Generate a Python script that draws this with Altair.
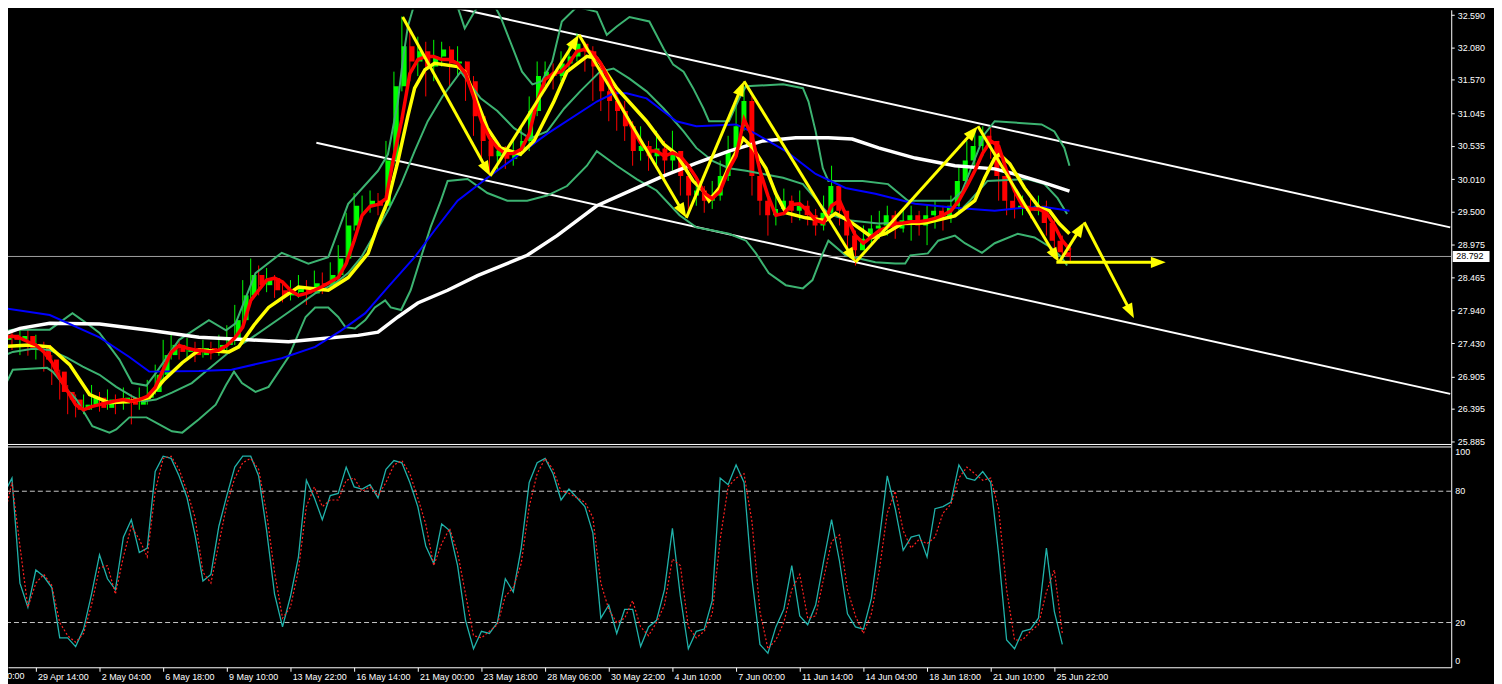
import math
import altair as alt
import pandas as pd

FONT = "Liberation Sans"

# ---------------- axis texts ----------------
PRICE_TICKS = [25.885, 26.395, 26.905, 27.430, 27.940, 28.465, 28.975, 29.500,
               30.010, 30.535, 31.045, 31.570, 32.080, 32.590]
TIME_TICK_BARS = [3.96, 11.96, 19.96, 27.96, 35.96, 43.96, 51.96, 59.96, 67.96,
                  75.96, 83.96, 91.96, 99.96, 107.96, 115.96, 123.96, 131.96]
TIME_LABELS = ["29 Apr 14:00", "2 May 04:00", "6 May 18:00", "9 May 10:00",
               "13 May 22:00", "16 May 14:00", "21 May 00:00", "23 May 18:00",
               "28 May 06:00", "30 May 22:00", "4 Jun 10:00", "7 Jun 00:00",
               "11 Jun 14:00", "14 Jun 04:00", "18 Jun 18:00", "21 Jun 10:00",
               "25 Jun 22:00"]
EDGE_LABEL_BAR = -4.04
EDGE_LABEL = "26 Apr 00:00"
CURRENT_PRICE = 28.792
CURRENT_PRICE_TEXT = "28.792"
STOCH_MID_LEVELS = [80, 20]
STOCH_TOP = [100]
STOCH_BOTTOM = [0]

# ---------------- candles ----------------
FIRST_OPEN = 27.48
CLOSE = [27.56, 27.48, 27.54, 27.35, 27.40, 27.17, 26.98, 26.66, 26.54, 26.38,
         26.46, 26.57, 26.41, 26.54, 26.48, 26.57, 26.46, 26.57, 26.66, 26.93,
         27.24, 27.40, 27.29, 27.35, 27.24, 27.35, 27.29, 27.40, 27.51, 27.79,
         28.18, 28.50, 28.34, 28.45, 28.26, 28.18, 28.23, 28.29, 28.21, 28.37,
         28.34, 28.50, 28.76, 29.28, 29.59, 29.59, 29.67, 29.59, 30.30, 31.47,
         32.10, 31.86, 32.02, 31.78, 31.94, 32.05, 31.83, 31.86, 31.55, 31.00,
         30.61, 30.37, 30.45, 30.33, 30.45, 30.61, 31.08, 31.63, 31.70, 31.63,
         31.83, 31.94, 32.14, 32.02, 31.78, 31.39, 31.24, 31.08, 30.84, 30.45,
         30.53, 30.37, 30.49, 30.30, 30.45, 30.06, 29.75, 29.83, 29.67, 29.75,
         30.06, 30.45, 30.84, 31.24, 30.06, 29.67, 29.44, 29.54, 29.67, 29.51,
         29.59, 29.44, 29.28, 29.48, 29.90, 29.51, 29.12, 28.89, 29.07, 29.23,
         29.28, 29.44, 29.23, 29.36, 29.44, 29.28, 29.44, 29.51, 29.39, 29.59,
         29.98, 30.30, 30.53, 30.69, 30.61, 30.06, 29.67, 29.54, 29.59, 29.51,
         29.59, 29.32, 29.04, 28.86, 28.79]
HIGH = [27.71, 27.64, 27.67, 27.64, 27.56, 27.45, 27.24, 27.01, 26.77, 26.62,
        26.62, 26.77, 26.66, 26.70, 26.62, 26.73, 26.62, 26.73, 26.85, 27.09,
        27.48, 27.56, 27.48, 27.51, 27.45, 27.48, 27.45, 27.56, 27.71, 28.03,
        28.42, 28.76, 28.65, 28.61, 28.50, 28.39, 28.42, 28.50, 28.42, 28.57,
        28.54, 28.70, 28.97, 29.48, 29.79, 29.75, 29.83, 29.79, 30.61, 31.70,
        32.57, 32.33, 32.25, 32.17, 32.20, 32.17, 32.10, 32.10, 31.86, 31.63,
        31.08, 30.69, 30.61, 30.53, 30.61, 30.84, 31.31, 31.86, 31.86, 31.83,
        32.02, 32.14, 32.30, 32.17, 32.10, 31.86, 31.55, 31.39, 31.24, 30.92,
        30.84, 30.61, 30.77, 30.61, 30.77, 30.45, 30.14, 30.06, 29.90, 29.98,
        30.30, 30.69, 31.16, 31.47, 31.31, 30.22, 29.75, 29.75, 29.86, 29.75,
        29.83, 29.67, 29.54, 29.75, 30.22, 29.90, 29.44, 29.20, 29.28, 29.44,
        29.51, 29.59, 29.51, 29.54, 29.59, 29.51, 29.59, 29.67, 29.59, 29.75,
        30.22, 30.61, 30.77, 30.84, 30.84, 30.61, 30.06, 29.79, 29.75, 29.70,
        29.75, 29.67, 29.44, 29.12, 28.97]
LOW = [27.40, 27.32, 27.24, 27.23, 27.17, 26.98, 26.77, 26.54, 26.31, 26.26,
       26.31, 26.38, 26.35, 26.38, 26.31, 26.38, 26.15, 26.38, 26.46, 26.62,
       26.85, 27.17, 27.17, 27.20, 27.13, 27.20, 27.17, 27.23, 27.32, 27.40,
       27.71, 28.10, 28.18, 28.23, 28.14, 28.07, 28.10, 28.14, 28.03, 28.23,
       28.20, 28.29, 28.42, 28.70, 29.20, 29.44, 29.48, 29.44, 29.51, 30.22,
       31.39, 31.55, 31.63, 31.31, 31.55, 31.78, 31.47, 31.63, 31.24, 30.69,
       30.30, 30.06, 30.14, 30.17, 30.22, 30.37, 30.45, 31.00, 31.47, 31.42,
       31.55, 31.70, 31.86, 31.70, 31.24, 31.08, 30.92, 30.77, 30.61, 30.22,
       30.30, 30.14, 30.22, 29.98, 30.14, 29.75, 29.44, 29.59, 29.48, 29.54,
       29.67, 29.98, 30.37, 30.77, 29.75, 29.44, 29.12, 29.28, 29.44, 29.32,
       29.36, 29.28, 29.12, 29.20, 29.44, 29.28, 28.89, 28.65, 28.89, 28.97,
       29.07, 29.12, 29.07, 29.17, 29.04, 29.12, 28.97, 29.23, 29.20, 29.32,
       29.51, 29.90, 30.14, 30.37, 30.33, 29.67, 29.44, 29.39, 29.44, 29.39,
       29.44, 29.12, 28.76, 28.70, 28.70]

# ---------------- moving averages ----------------
RED_MA = [27.51, 27.54, 27.51, 27.45, 27.40, 27.29, 27.13, 26.88, 26.67, 26.46,
          26.38, 26.43, 26.46, 26.49, 26.52, 26.54, 26.51, 26.54, 26.59, 26.73,
          27.01, 27.28, 27.39, 27.35, 27.32, 27.31, 27.29, 27.32, 27.39, 27.51,
          27.68, 28.10, 28.26, 28.42, 28.45, 28.39, 28.26, 28.18, 28.21, 28.26,
          28.32, 28.39, 28.46, 28.68, 29.04, 29.44, 29.58, 29.61, 29.70, 30.37,
          30.95, 31.67, 31.89, 31.94, 31.94, 31.89, 31.89, 31.83, 31.67, 31.31,
          30.92, 30.66, 30.50, 30.41, 30.41, 30.48, 30.72, 31.23, 31.58, 31.67,
          31.70, 31.83, 32.02, 32.05, 31.99, 31.83, 31.58, 31.28, 31.05, 30.80,
          30.58, 30.45, 30.45, 30.37, 30.42, 30.37, 30.22, 30.03, 29.79, 29.70,
          29.82, 30.14, 30.37, 30.95, 30.69, 30.14, 29.75, 29.44, 29.47, 29.61,
          29.62, 29.51, 29.36, 29.32, 29.59, 29.67, 29.39, 29.12, 29.00, 29.10,
          29.20, 29.25, 29.31, 29.32, 29.34, 29.34, 29.36, 29.39, 29.44, 29.51,
          29.67, 29.90, 30.14, 30.42, 30.61, 30.53, 30.14, 29.82, 29.59, 29.54,
          29.54, 29.48, 29.28, 29.04, 28.89]

YELLOW_I = [-0.5, 3.25, 5.75, 8.25, 10.75, 13.25, 15.75, 18.25, 20.1, 22.4,
            24.5, 28.25, 29.5, 31.4, 33.25, 35.1, 37.0, 40.75, 43.25, 45.75,
            47.0, 48.25, 49.5, 50.75, 51.6, 52.9, 54.1, 57.0, 57.9, 59.1,
            60.75, 62.4, 64.9, 66.6, 69.1, 70.75, 73.25, 74.5, 77.0, 80.75,
            82.9, 84.5, 86.6, 87.9, 88.6, 89.9, 91.6, 92.9, 94.1, 95.75,
            97.0, 98.25, 100.75, 103.25, 104.5, 106.1, 107.9, 109.1, 110.75, 112.9,
            115.75, 119.5, 122.0, 123.25, 124.5, 125.1, 126.4, 128.25, 130.1, 131.4,
            132.6, 133.9]
YELLOW_P = [27.37, 27.40, 27.37, 27.09, 26.62, 26.49, 26.51, 26.57, 26.85, 27.12,
            27.32, 27.29, 27.37, 27.71, 27.99, 28.15, 28.31, 28.26, 28.46, 28.84,
            29.28, 29.67, 30.29, 31.00, 31.44, 31.73, 31.83, 31.78, 31.70, 31.34,
            30.81, 30.50, 30.40, 30.61, 31.23, 31.70, 31.94, 31.91, 31.44, 30.92,
            30.56, 30.40, 29.98, 29.82, 29.67, 29.87, 30.34, 30.65, 30.50, 30.18,
            29.78, 29.48, 29.40, 29.36, 29.47, 29.36, 29.20, 29.09, 29.15, 29.31,
            29.32, 29.43, 29.67, 30.03, 30.34, 30.40, 30.25, 29.87, 29.56, 29.51,
            29.31, 29.15]

BLUE_I = [-0.5, 5.75, 12.0, 15.75, 18.25, 24.5, 28.6, 34.9, 39.1, 42.4,
          45.4, 48.25, 51.6, 54.1, 57.0, 60.75, 68.25, 74.5, 76.6, 78.25,
          80.75, 84.5, 87.0, 92.0, 94.5, 98.25, 102.0, 105.75, 109.5, 114.5,
          119.5, 124.5, 128.25, 130.75, 133.9]
BLUE_P = [27.99, 27.87, 27.52, 27.21, 26.98, 26.99, 27.01, 27.19, 27.37, 27.63,
          27.90, 28.31, 28.78, 29.20, 29.67, 30.03, 30.72, 31.23, 31.36, 31.36,
          31.28, 30.92, 30.84, 30.87, 30.72, 30.45, 30.09, 29.87, 29.78, 29.62,
          29.56, 29.51, 29.56, 29.57, 29.51]

WHITE_I = [-0.5, 2.0, 5.75, 12.0, 18.25, 24.5, 30.75, 35.75, 40.75, 44.5,
           47.0, 49.5, 52.0, 55.75, 59.5, 65.75, 69.5, 74.5, 78.6, 82.9,
           87.0, 91.1, 95.4, 99.5, 103.6, 106.6, 109.9, 114.5, 119.5, 124.5,
           127.0, 130.75, 133.9]
WHITE_P = [27.55, 27.66, 27.74, 27.73, 27.63, 27.52, 27.48, 27.45, 27.51, 27.55,
           27.60, 27.84, 28.06, 28.26, 28.49, 28.81, 29.12, 29.59, 29.82, 30.06,
           30.26, 30.45, 30.61, 30.66, 30.66, 30.64, 30.50, 30.34, 30.22, 30.17,
           30.09, 29.95, 29.82]

# ---------------- Bollinger bands ----------------
BB_UP_I = [-0.5, 1.1, 5.75, 8.6, 10.4, 12.0, 14.5, 16.1, 17.9, 19.1,
           22.0, 25.75, 27.9, 29.1, 31.6, 34.9, 38.25, 40.75, 43.25, 47.0,
           48.25, 49.5, 50.1, 50.75, 52.0, 56.4, 57.9, 59.1, 60.75, 62.4,
           64.1, 65.1, 66.4, 67.6, 68.9, 70.1, 72.0, 74.5, 75.75, 77.0,
           78.6, 81.1, 82.9, 84.1, 85.4, 86.6, 87.9, 88.6, 91.1, 92.4,
           93.25, 97.9, 100.4, 101.1, 102.0, 102.9, 103.6, 107.9, 111.1, 113.6,
           119.1, 120.4, 123.25, 124.5, 130.4, 132.0, 133.25, 133.9]
BB_UP_P = [27.59, 27.64, 27.64, 27.90, 27.74, 27.59, 27.17, 26.80, 26.76, 26.96,
           27.48, 27.79, 27.63, 27.74, 28.53, 28.85, 28.68, 28.78, 29.62, 30.14,
           30.40, 31.23, 31.86, 32.41, 32.95, 32.95, 32.38, 32.64, 32.95, 32.56,
           32.02, 31.70, 31.50, 31.55, 31.86, 32.49, 32.72, 32.64, 32.28, 32.41,
           32.56, 32.49, 32.06, 31.81, 31.70, 31.44, 31.12, 30.92, 30.92, 31.28,
           31.47, 31.50, 31.44, 31.23, 30.76, 30.18, 29.98, 29.98, 29.93, 29.67,
           29.67, 29.82, 30.72, 30.92, 30.87, 30.76, 30.50, 30.22]
BB_MID_I = [-0.5, 1.1, 3.6, 5.75, 7.9, 9.9, 12.0, 14.1, 16.1, 17.4,
            19.1, 21.1, 23.6, 26.1, 28.6, 30.75, 34.9, 39.1, 41.6, 43.25,
            44.9, 46.6, 48.25, 49.9, 51.6, 53.25, 55.1, 57.4, 59.9, 62.0,
            64.1, 66.1, 68.25, 70.4, 72.4, 74.9, 76.6, 78.6, 80.75, 82.9,
            85.4, 87.0, 89.1, 91.1, 93.25, 95.4, 97.9, 100.4, 103.6, 106.1,
            109.9, 112.0, 115.75, 119.5, 121.4, 123.6, 128.6, 130.75, 132.4, 133.6]
BB_MID_P = [27.21, 27.29, 27.34, 27.32, 27.20, 27.06, 26.93, 26.74, 26.59, 26.51,
            26.54, 26.65, 26.80, 27.06, 27.32, 27.48, 27.84, 28.21, 28.37, 28.53,
            28.78, 29.15, 29.51, 29.93, 30.45, 30.92, 31.31, 31.70, 31.28, 31.08,
            30.81, 30.65, 30.76, 31.12, 31.39, 31.70, 31.75, 31.59, 31.39, 31.12,
            30.76, 30.50, 30.29, 30.18, 30.14, 30.09, 30.03, 29.93, 29.46, 29.36,
            29.31, 29.32, 29.32, 29.43, 29.67, 29.98, 30.01, 29.93, 29.71, 29.46]
BB_LO_I = [-0.5, 0.4, 1.1, 5.4, 6.1, 7.0, 7.9, 9.1, 11.1, 13.25,
           14.1, 15.75, 17.9, 19.5, 21.1, 22.4, 24.5, 26.6, 27.9, 28.9,
           29.9, 31.6, 33.25, 35.75, 37.9, 39.1, 40.75, 42.0, 42.9, 44.1,
           45.4, 46.6, 47.9, 48.6, 49.9, 51.1, 52.4, 53.6, 54.9, 55.75,
           58.25, 60.75, 63.25, 65.75, 68.25, 70.75, 73.25, 74.5, 77.0, 79.5,
           82.0, 84.9, 87.0, 89.1, 91.1, 93.25, 94.5, 96.1, 98.25, 100.4,
           101.6, 102.9, 103.6, 105.75, 109.5, 112.0, 113.25, 113.9, 116.1, 117.4,
           119.5, 120.75, 122.9, 124.5, 127.4, 129.5, 131.6, 132.9, 133.6]
BB_LO_P = [26.85, 26.83, 27.01, 27.04, 26.98, 26.85, 26.70, 26.54, 26.12, 26.02,
           26.07, 26.26, 26.26, 26.15, 26.04, 26.02, 26.23, 26.46, 26.77, 26.98,
           26.80, 26.66, 26.74, 27.21, 27.84, 27.99, 27.99, 27.84, 27.68, 27.66,
           27.79, 27.99, 28.10, 27.99, 27.95, 28.26, 28.78, 29.25, 29.67, 29.98,
           30.01, 29.79, 29.67, 29.67, 29.75, 29.90, 30.22, 30.45, 30.22, 30.01,
           29.83, 29.44, 29.25, 29.20, 29.15, 29.04, 28.84, 28.53, 28.34, 28.29,
           28.42, 28.84, 29.04, 28.81, 28.70, 28.68, 28.68, 28.81, 28.84, 29.04,
           29.12, 29.00, 28.85, 29.00, 29.15, 29.09, 28.93, 28.78, 28.65]

# ---------------- trend channel & zig-zag arrows ----------------
CHANNEL_I0 = [53.25, 39.25]
CHANNEL_P0 = [32.80, 30.58]
CHANNEL_I1 = [181.75, 181.75]
CHANNEL_P1 = [29.25, 26.63]

ARROW_FROM_I = [50.1, 61.1, 72.25, 85.75, 93.0, 107.0, 122.4, 132.6, 135.75, 132.25]
ARROW_FROM_P = [32.56, 30.06, 32.28, 29.40, 31.55, 28.70, 30.84, 28.70, 29.33, 28.70]
ARROW_TO_I = [61.1, 72.25, 85.75, 93.0, 107.0, 122.4, 132.6, 135.75, 142.0, 146.0]
ARROW_TO_P = [30.06, 32.28, 29.40, 31.55, 28.70, 30.84, 28.70, 29.33, 27.82, 28.70]

# ---------------- stochastic ----------------
STOCH_MAIN = [79, 86, 38, 27, 44, 41, 36, 13, 13, 9,
              17, 33, 51, 40, 35, 59, 67, 52, 54, 89,
              96, 95, 87, 77, 60, 39, 42, 64, 78, 91,
              96, 96, 87, 62, 33, 18, 32, 50, 85, 77,
              67, 78, 79, 91, 82, 81, 83, 77, 90, 94,
              93, 84, 73, 55, 47, 65, 62, 46, 21, 8,
              16, 15, 20, 40, 34, 54, 84, 93, 95, 88,
              76, 81, 77, 73, 61, 22, 28, 15, 26, 26,
              9, 18, 21, 35, 63, 32, 8, 16, 17, 30,
              86, 83, 92, 84, 40, 10, 6, 18, 26, 46,
              23, 19, 28, 48, 67, 48, 24, 18, 17, 31,
              58, 87, 72, 53, 59, 60, 50, 72, 73, 75,
              92, 86, 85, 89, 84, 51, 12, 8, 16, 17,
              22, 54, 25, 10]
STOCH_SIGNAL = [68, 84, 55, 27, 38, 42, 37, 20, 14, 11,
                15, 28, 45, 46, 33, 50, 64, 58, 50, 80,
                95, 96, 90, 80, 68, 43, 38, 56, 74, 86,
                93, 95, 90, 70, 43, 22, 27, 44, 73, 82,
                73, 76, 76, 85, 86, 80, 82, 78, 84, 92,
                94, 88, 77, 65, 46, 56, 63, 52, 33, 14,
                13, 16, 19, 32, 36, 47, 73, 88, 95, 90,
                80, 79, 77, 75, 68, 38, 26, 20, 22, 30,
                18, 14, 20, 28, 49, 46, 18, 13, 16, 24,
                58, 82, 86, 88, 66, 25, 8, 12, 20, 35,
                42, 22, 23, 40, 57, 60, 35, 23, 15, 24,
                44, 70, 80, 62, 54, 58, 56, 59, 70, 74,
                86, 91, 88, 85, 86, 72, 35, 12, 12, 16,
                19, 34, 44, 15]

# ---------------- layout / styling ----------------
PLOT_W, PLOT_H = 1451, 661
XDOM = [0.5, 181.875]
PDOM = [22.328, 32.673]
SDOM = [-0.45, 300.0]
GREEN_CANDLE = "#00ff00"
RED_CANDLE = "#ff0000"
BAND_COLOR = "#3cb371"
ARROW_COLOR = "#ffff00"
HEAD_PATH = "M0,-1L0.75,1L-0.75,1Z"
HEAD_SIZE = 225
HEAD_BACK = 7.5
BOX_PATH = "M-1,-0.3L1,-0.3L1,0.3L-1,0.3Z"


def xsc():
    return alt.Scale(domain=XDOM, nice=False, zero=False)


def psc():
    return alt.Scale(domain=PDOM, nice=False, zero=False)


def ssc():
    return alt.Scale(domain=SDOM, nice=False, zero=False)


def PX(field):
    return alt.X(f"{field}:Q", scale=xsc(), axis=None)


def PY(field):
    return alt.Y(f"{field}:Q", scale=psc(), axis=None)


def SY(field):
    return alt.Y(f"{field}:Q", scale=ssc(), axis=None)


# data frames
candles = pd.DataFrame({
    "i": list(range(len(CLOSE))),
    "open": [FIRST_OPEN] + CLOSE[:-1],
    "high": HIGH, "low": LOW, "close": CLOSE,
})
red_df = pd.DataFrame({"i": list(range(len(RED_MA))), "p": RED_MA})
yellow_df = pd.DataFrame({"i": YELLOW_I, "p": YELLOW_P})
blue_df = pd.DataFrame({"i": BLUE_I, "p": BLUE_P})
white_df = pd.DataFrame({"i": WHITE_I, "p": WHITE_P})
bands_df = pd.concat([
    pd.DataFrame({"band": "upper", "i": BB_UP_I, "p": BB_UP_P}),
    pd.DataFrame({"band": "middle", "i": BB_MID_I, "p": BB_MID_P}),
    pd.DataFrame({"band": "lower", "i": BB_LO_I, "p": BB_LO_P}),
])
chan_df = pd.DataFrame({"i0": CHANNEL_I0, "p0": CHANNEL_P0, "i1": CHANNEL_I1, "p1": CHANNEL_P1})

px_per_bar = PLOT_W / (XDOM[1] - XDOM[0])
px_per_price = PLOT_H / (PDOM[1] - PDOM[0])
arrow_rows = []
for i0, p0, i1, p1 in zip(ARROW_FROM_I, ARROW_FROM_P, ARROW_TO_I, ARROW_TO_P):
    dx = (i1 - i0) * px_per_bar
    dy = -(p1 - p0) * px_per_price
    L = math.hypot(dx, dy)
    ux, uy = dx / L, dy / L
    ang = math.degrees(math.atan2(dx, -dy)) % 360
    ci = i1 - HEAD_BACK * ux / px_per_bar
    cp = p1 + HEAD_BACK * uy / px_per_price
    arrow_rows.append({"i0": i0, "p0": p0, "ci": ci, "cp": cp, "ang": ang})
arrows_df = pd.DataFrame(arrow_rows)

stoch_df = pd.DataFrame({"i": list(range(len(STOCH_MAIN))), "main": STOCH_MAIN,
                         "signal": STOCH_SIGNAL})

# axes
label_expr = ("[" + ",".join(f"'{t}'" for t in TIME_LABELS) + "][indexof(["
              + ",".join(str(v) for v in TIME_TICK_BARS) + "], datum.value)]")
x_axis = alt.Axis(orient="bottom", values=TIME_TICK_BARS, labelExpr=label_expr,
                  labelAlign="left", labelBaseline="top", labelOffset=2, labelPadding=1,
                  tickSize=4, tickColor="white", domainColor="white", domainWidth=1,
                  labelColor="white", labelFont=FONT, labelFontSize=9, grid=False,
                  title=None, labelFlush=False, labelOverlap=False)
p_axis = alt.Axis(orient="right", values=PRICE_TICKS, format=".3f", labelAlign="left",
                  labelBaseline="middle", labelPadding=3, tickSize=3, tickColor="white",
                  domainColor="white", domainWidth=1, labelColor="white", labelFont=FONT,
                  labelFontSize=9, grid=False, title=None, labelFlush=False,
                  labelOverlap=False)

candle_color = alt.condition("datum.close >= datum.open", alt.value(GREEN_CANDLE),
                             alt.value(RED_CANDLE))

layers = []

# channel lines
layers.append(alt.Chart(chan_df).mark_rule(color="white", strokeWidth=2, clip=True).encode(
    x=PX("i0"), y=PY("p0"), x2="i1:Q", y2="p1:Q"))
# current price line
layers.append(alt.Chart(pd.DataFrame({"p": [CURRENT_PRICE]})).mark_rule(
    color="#a0a0a0", strokeWidth=1).encode(y=PY("p")))
# candle wicks (carry axes)
layers.append(alt.Chart(candles).mark_rule(strokeWidth=1, clip=True).encode(
    x=alt.X("i:Q", scale=xsc(), axis=x_axis),
    y=alt.Y("low:Q", scale=psc(), axis=p_axis),
    y2="high:Q", color=candle_color))
# candle bodies
layers.append(alt.Chart(candles).mark_bar(size=5, clip=True).encode(
    x=PX("i"), y=PY("open"), y2="close:Q", color=candle_color))
# bollinger bands
layers.append(alt.Chart(bands_df).mark_line(color=BAND_COLOR, strokeWidth=2, clip=True).encode(
    x=PX("i"), y=PY("p"), detail="band:N"))
# slow MA (white), medium MA (blue)
layers.append(alt.Chart(white_df).mark_line(color="white", strokeWidth=3.5, clip=True).encode(
    x=PX("i"), y=PY("p")))
layers.append(alt.Chart(blue_df).mark_line(color="#0000ff", strokeWidth=2, clip=True).encode(
    x=PX("i"), y=PY("p")))
# fast MAs
layers.append(alt.Chart(yellow_df).mark_line(color="#ffff00", strokeWidth=3.5, clip=True).encode(
    x=PX("i"), y=PY("p")))
layers.append(alt.Chart(red_df).mark_line(color="#ff0000", strokeWidth=3.5, clip=True).encode(
    x=PX("i"), y=PY("p")))
# zig-zag arrows
layers.append(alt.Chart(arrows_df).mark_rule(color=ARROW_COLOR, strokeWidth=3, clip=True).encode(
    x=PX("i0"), y=PY("p0"), x2="ci:Q", y2="cp:Q"))
layers.append(alt.Chart(arrows_df).mark_point(shape=HEAD_PATH, size=HEAD_SIZE, filled=True,
                                              color=ARROW_COLOR, opacity=1, strokeWidth=0).encode(
    x=PX("ci"), y=PY("cp"), angle=alt.Angle("ang:Q", scale=None)))

# stochastic panel
layers.append(alt.Chart(pd.DataFrame({"v": STOCH_MID_LEVELS})).mark_rule(
    color="#c8c8c8", strokeWidth=1, strokeDash=[5, 3]).encode(y=SY("v")))
layers.append(alt.Chart(stoch_df).mark_line(color="#20b2aa", strokeWidth=1.3, clip=True).encode(
    x=PX("i"), y=SY("main")))
layers.append(alt.Chart(stoch_df).mark_line(color="#ff2020", strokeWidth=1.2, strokeDash=[2, 2],
                                            clip=True).encode(x=PX("i"), y=SY("signal")))
layers.append(alt.Chart(pd.DataFrame({"v": STOCH_MID_LEVELS})).mark_text(
    align="left", baseline="middle", color="white", font=FONT, fontSize=9).encode(
    x=alt.value(PLOT_W + 4), y=SY("v"), text="v:Q"))
layers.append(alt.Chart(pd.DataFrame({"v": STOCH_TOP})).mark_text(
    align="left", baseline="top", dy=1, color="white", font=FONT, fontSize=9).encode(
    x=alt.value(PLOT_W + 4), y=SY("v"), text="v:Q"))
layers.append(alt.Chart(pd.DataFrame({"v": STOCH_BOTTOM})).mark_text(
    align="left", baseline="bottom", color="white", font=FONT, fontSize=9).encode(
    x=alt.value(PLOT_W + 4), y=SY("v"), text="v:Q"))

# panel separators
layers.append(alt.Chart(pd.DataFrame({"k": [0]})).mark_rule(color="white", strokeWidth=1).encode(
    x=alt.value(0), x2=alt.value(PLOT_W), y=alt.value(437)))
layers.append(alt.Chart(pd.DataFrame({"k": [0]})).mark_rule(color="white", strokeWidth=1).encode(
    x=alt.value(0), x2=alt.value(PLOT_W), y=alt.value(439.5)))

# current price tag on the scale
tag_df = pd.DataFrame({"p": [CURRENT_PRICE], "t": [CURRENT_PRICE_TEXT]})
layers.append(alt.Chart(tag_df).mark_point(shape=BOX_PATH, size=1369, filled=True, color="white",
                                           opacity=1, strokeWidth=0).encode(
    x=alt.value(PLOT_W + 20), y=PY("p")))
layers.append(alt.Chart(tag_df).mark_text(align="left", baseline="middle", color="black",
                                          font=FONT, fontSize=9).encode(
    x=alt.value(PLOT_W + 5), y=PY("p"), text="t:N"))

# partially visible first time label
layers.append(alt.Chart(pd.DataFrame({"i": [EDGE_LABEL_BAR], "t": [EDGE_LABEL]})).mark_text(
    align="left", baseline="top", dx=2, color="white", font=FONT, fontSize=9).encode(
    x=PX("i"), y=alt.value(PLOT_H + 5), text="t:N"))

chart = alt.layer(*layers).resolve_scale(x="independent", y="independent").properties(
    width=PLOT_W, height=PLOT_H,
    autosize=alt.AutoSizeParams(type="none"),
    padding={"left": 0, "top": 0, "right": 43, "bottom": 15},
).configure(background="#000000").configure_view(strokeWidth=0)

chart.save("out.html", embed_options={"renderer": "svg", "actions": False})
